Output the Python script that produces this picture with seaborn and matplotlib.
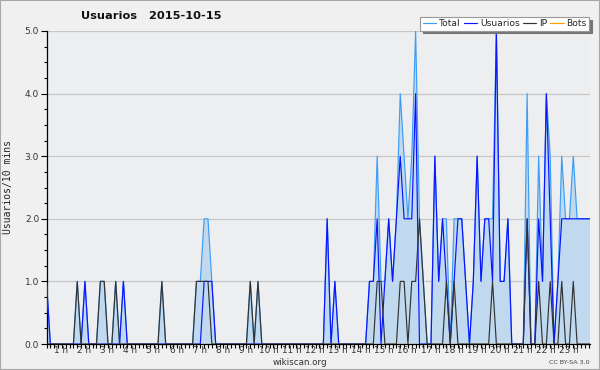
import matplotlib
matplotlib.use("Agg")
import matplotlib.pyplot as plt
import seaborn as sns
import pandas as pd
from matplotlib.patches import Rectangle

# 10-minute slots over the day (0 = 00:00)
slots = list(range(144))

# Values, 12 slots (2 hours) per row
total = [
    1, 0, 0, 0, 0, 0, 0, 0, 1, 0, 1, 0,
    0, 0, 1, 1, 0, 0, 1, 0, 1, 0, 0, 0,
    0, 0, 0, 0, 0, 0, 1, 0, 0, 0, 0, 0,
    0, 0, 0, 1, 1, 2, 2, 1, 0, 0, 0, 0,
    0, 0, 0, 0, 0, 1, 0, 1, 0, 0, 0, 0,
    0, 0, 0, 0, 0, 0, 0, 0, 0, 0, 0, 0,
    0, 2, 0, 1, 0, 0, 0, 0, 0, 0, 0, 0,
    1, 1, 3, 1, 1, 2, 1, 2, 4, 3, 2, 3,
    5, 2, 1, 0, 0, 3, 1, 2, 2, 0, 2, 2,
    2, 1, 0, 1, 3, 1, 2, 2, 2, 5, 1, 1,
    2, 0, 0, 0, 0, 4, 0, 0, 3, 1, 4, 3,
    0, 1, 3, 2, 2, 3, 2, 2, 2, 2, 2, 2,
]
usuarios = [
    1, 0, 0, 0, 0, 0, 0, 0, 0, 0, 1, 0,
    0, 0, 0, 0, 0, 0, 0, 0, 1, 0, 0, 0,
    0, 0, 0, 0, 0, 0, 0, 0, 0, 0, 0, 0,
    0, 0, 0, 0, 0, 1, 1, 1, 0, 0, 0, 0,
    0, 0, 0, 0, 0, 0, 0, 0, 0, 0, 0, 0,
    0, 0, 0, 0, 0, 0, 0, 0, 0, 0, 0, 0,
    0, 2, 0, 1, 0, 0, 0, 0, 0, 0, 0, 0,
    1, 1, 2, 0, 1, 2, 1, 2, 3, 2, 2, 2,
    4, 0, 0, 0, 0, 3, 1, 2, 1, 0, 1, 2,
    2, 1, 0, 1, 3, 1, 2, 2, 1, 5, 1, 1,
    2, 0, 0, 0, 0, 2, 0, 0, 2, 1, 4, 2,
    0, 1, 2, 2, 2, 2, 2, 2, 2, 2, 2, 2,
]
ip = [
    0, 0, 0, 0, 0, 0, 0, 0, 1, 0, 0, 0,
    0, 0, 1, 1, 0, 0, 1, 0, 0, 0, 0, 0,
    0, 0, 0, 0, 0, 0, 1, 0, 0, 0, 0, 0,
    0, 0, 0, 1, 1, 1, 1, 0, 0, 0, 0, 0,
    0, 0, 0, 0, 0, 1, 0, 1, 0, 0, 0, 0,
    0, 0, 0, 0, 0, 0, 0, 0, 0, 0, 0, 0,
    0, 0, 0, 0, 0, 0, 0, 0, 0, 0, 0, 0,
    0, 0, 1, 1, 0, 0, 0, 0, 1, 1, 0, 1,
    1, 2, 1, 0, 0, 0, 0, 0, 1, 0, 1, 0,
    0, 0, 0, 0, 0, 0, 0, 0, 1, 0, 0, 0,
    0, 0, 0, 0, 0, 2, 0, 0, 1, 0, 0, 1,
    0, 0, 1, 0, 0, 1, 0, 0, 0, 0, 0, 0,
]
bots = [
    0, 0, 0, 0, 0, 0, 0, 0, 0, 0, 0, 0,
    0, 0, 0, 0, 0, 0, 0, 0, 0, 0, 0, 0,
    0, 0, 0, 0, 0, 0, 0, 0, 0, 0, 0, 0,
    0, 0, 0, 0, 0, 0, 0, 0, 0, 0, 0, 0,
    0, 0, 0, 0, 0, 0, 0, 0, 0, 0, 0, 0,
    0, 0, 0, 0, 0, 0, 0, 0, 0, 0, 0, 0,
    0, 0, 0, 0, 0, 0, 0, 0, 0, 0, 0, 0,
    0, 0, 0, 0, 0, 0, 0, 0, 0, 0, 0, 0,
    0, 0, 0, 0, 0, 0, 0, 0, 0, 0, 0, 0,
    0, 0, 0, 0, 0, 0, 0, 0, 0, 0, 0, 0,
    0, 0, 0, 0, 0, 0, 0, 0, 0, 0, 0, 0,
    0, 0, 0, 0, 0, 0, 0, 0, 0, 0, 0, 0,
]
hour_labels = [f"{h} h" for h in range(1, 24)]
y_labels = ["0.0", "1.0", "2.0", "3.0", "4.0", "5.0"]

df = pd.DataFrame({"slot": slots, "Total": total, "Usuarios": usuarios,
                   "IP": ip, "Bots": bots})

sns.set_theme(style="white")
plt.rcParams["font.family"] = ["DejaVu Sans"]
plt.rcParams["path.simplify"] = False

W, H = 600, 370
fig = plt.figure(figsize=(W / 100, H / 100), dpi=100, facecolor="#F0F0F0")
L, R, T, B = 46.5, 590, 31, 344
ax = fig.add_axes([L / W, 1 - B / H, (R - L) / W, (B - T) / H])
ax.set_facecolor("#EDEEF0")

colors = {"Total": "#3D9DF5", "Usuarios": "#0A14FF", "IP": "#333333", "Bots": "#FFA000"}

# horizontal grid
for v in range(1, 6):
    ax.axhline(v, color="#C8C8C8", lw=0.9, zorder=0.5)

# area under Total
ax.fill_between(df["slot"].to_numpy(dtype=float), df["Total"].to_numpy(dtype=float),
                0.0, facecolor="#C0D9EF", edgecolor="none", zorder=1.5)

for i, name in enumerate(["Total", "Usuarios", "IP", "Bots"]):
    sns.lineplot(data=df, x="slot", y=name, ax=ax, color=colors[name],
                 lw=0.85, label=name, zorder=3 + i)

ax.set_xlim(0, 141.35)
ax.set_ylim(0, 5)

# y ticks
ax.set_yticks(range(6))
ax.set_yticklabels(y_labels)
ax.set_yticks([k * 0.25 for k in range(21)], minor=True)
ax.tick_params(axis="y", which="major", length=4.3, width=0.8, color="black",
               labelsize=6.5, labelcolor="#333333", pad=1, direction="out", left=True)
ax.tick_params(axis="y", which="minor", length=2.2, width=0.8, color="black",
               direction="out", left=True)

# x ticks every 10 minutes, hour labels drawn as text
ax.set_xticks(list(range(0, 142)))
ax.set_xticklabels([])
ax.tick_params(axis="x", which="major", length=2.6, width=0.8, color="black",
               direction="out", bottom=True)
for h, lab in zip(range(1, 24), hour_labels):
    ax.text(6 * h - 2.16, -0.007, lab, transform=ax.get_xaxis_transform(),
            ha="center", va="top", fontsize=6.4, color="#333333")

for s in ["top", "right"]:
    ax.spines[s].set_visible(False)
for s in ["left", "bottom"]:
    ax.spines[s].set_color("black")
    ax.spines[s].set_linewidth(0.9)

ax.set_xlabel("")
ax.set_ylabel("")

fig.text(151 / W, 1 - 16 / H, "Usuarios   2015-10-15", ha="center", va="center",
         fontsize=8.2, fontweight="bold", color="#111111")
fig.text(8.5 / W, 1 - 187 / H, "Usuarios/10 mins", rotation=90, ha="center",
         va="center", fontsize=7, family="DejaVu Sans Mono", color="#222222")
fig.text(300 / W, 1 - 362.5 / H, "wikiscan.org", ha="center", va="center",
         fontsize=6.3, color="#333333")
fig.text(590 / W, 1 - 362.5 / H, "CC BY-SA 3.0", ha="right", va="center",
         fontsize=4.6, color="#444444")

leg = ax.legend(loc="upper right", bbox_to_anchor=(589 / W, 1 - 17 / H),
                bbox_transform=fig.transFigure, ncol=4, fontsize=6.6,
                frameon=True, fancybox=False, shadow={"color": "#777777", "alpha": 1},
                handlelength=1.5, handletextpad=0.3, columnspacing=0.3,
                borderpad=0.25, borderaxespad=0)
leg.get_frame().set_facecolor("white")
leg.get_frame().set_edgecolor("#999999")
leg.get_frame().set_linewidth(0.8)
leg.set_zorder(20)

fig.patches.append(Rectangle((0, 0), 1, 1, transform=fig.transFigure, fill=False,
                             edgecolor="#A8A8A8", lw=1.5))

fig.savefig("out.png", dpi=100, facecolor=fig.get_facecolor())
